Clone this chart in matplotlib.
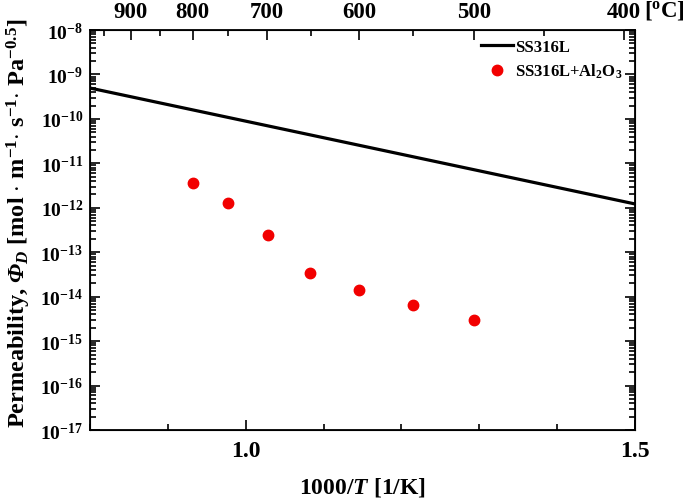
import numpy as np
import matplotlib.pyplot as plt
from matplotlib.ticker import LogLocator, FixedLocator, MultipleLocator, NullFormatter

plt.rcParams['font.family'] = ['Liberation Serif', 'DejaVu Serif']
plt.rcParams['font.weight'] = 'bold'
plt.rcParams['mathtext.fontset'] = 'custom'
plt.rcParams['mathtext.rm'] = 'Liberation Serif:bold'
plt.rcParams['mathtext.bf'] = 'Liberation Serif:bold'
plt.rcParams['mathtext.it'] = 'Liberation Serif:italic:bold'
plt.rcParams['mathtext.cal'] = 'Liberation Serif:italic:bold'  # italic capital Phi

# SS316L reference line (end points)
ss_x = [0.8, 1.5]
ss_y = [4.95e-10, 1.22e-12]

# SS316L+Al2O3 measurements
al_x = [0.932, 0.977, 1.028, 1.083, 1.145, 1.215, 1.293]
al_y = [3.7e-12, 1.3e-12, 2.4e-13, 3.5e-14, 1.45e-14, 6.6e-15, 3.0e-15]

# top axis temperatures [C]
top_major = [900, 800, 700, 600, 500, 400]
top_minor = [950, 850, 750, 650, 550, 450]

fig = plt.figure(figsize=(6.84, 5.02), dpi=100)
ax = fig.add_axes([0.1316, 0.1414, 0.7968, 0.7968])

ax.plot(ss_x, ss_y, '-', color='black', lw=2.3, label='SS316L')
ax.plot(al_x, al_y, 'o', color='#f20000', ms=7.5, mec='#f20000', label='SS316L+Al$_2$O$_3$')

ax.set_yscale('log')
ax.set_xlim(0.8, 1.5)
ax.set_ylim(1e-17, 1e-8)

ax.xaxis.set_major_locator(FixedLocator([1.0, 1.5]))
ax.xaxis.set_minor_locator(MultipleLocator(0.1))
ax.set_xticklabels(['1.0', '1.5'])
ax.yaxis.set_major_locator(LogLocator(base=10, numticks=20))
ax.yaxis.set_minor_locator(LogLocator(base=10, subs=np.arange(2, 10), numticks=20))
ax.yaxis.set_minor_formatter(NullFormatter())

ax.tick_params(which='both', direction='in', width=1.2)
ax.tick_params(axis='x', which='both', top=False, pad=7, labelsize=17)
ax.tick_params(axis='y', which='both', right=True, pad=5, labelsize=14)
ax.tick_params(which='major', length=7)
ax.tick_params(which='minor', length=4)
for s in ax.spines.values():
    s.set_linewidth(1.3)

ax.set_xlabel('1000/$\\mathit{T}$ [1/K]', fontsize=17, fontweight='bold', labelpad=10)
ax.set_ylabel('Permeability, $\\mathcal{Φ}_\\mathit{D}$ [mol $\\cdot$ m$^{-1}$$\\cdot$ s$^{-1}$$\\cdot$ Pa$^{-0.5}$]',
              fontsize=17.5, fontweight='bold')
ax.yaxis.set_label_coords(-0.105, 0.52)

# top axis in degrees C
top = ax.twiny()
top.set_xlim(ax.get_xlim())
top.xaxis.set_major_locator(FixedLocator([1000 / (t + 273.15) for t in top_major]))
top.xaxis.set_minor_locator(FixedLocator([1000 / (t + 273.15) for t in top_minor]))
top.set_xticklabels([str(t) for t in top_major])
top.tick_params(which='both', direction='in', labelsize=16.5, width=1.2, pad=6)
top.tick_params(which='major', length=7)
top.tick_params(which='minor', length=4)
top.text(1.512, 1.022, '[$^{\\rm o}$C]', transform=ax.get_xaxis_transform(),
         fontsize=16.5, fontweight='bold', ha='left', va='bottom')

ax.legend(loc='upper right', bbox_to_anchor=(1.0, 1.01), frameon=False, fontsize=12,
          handlelength=1.9, handletextpad=0.15, labelspacing=0.45, borderaxespad=0.35)

plt.savefig('out.png', dpi=100)
